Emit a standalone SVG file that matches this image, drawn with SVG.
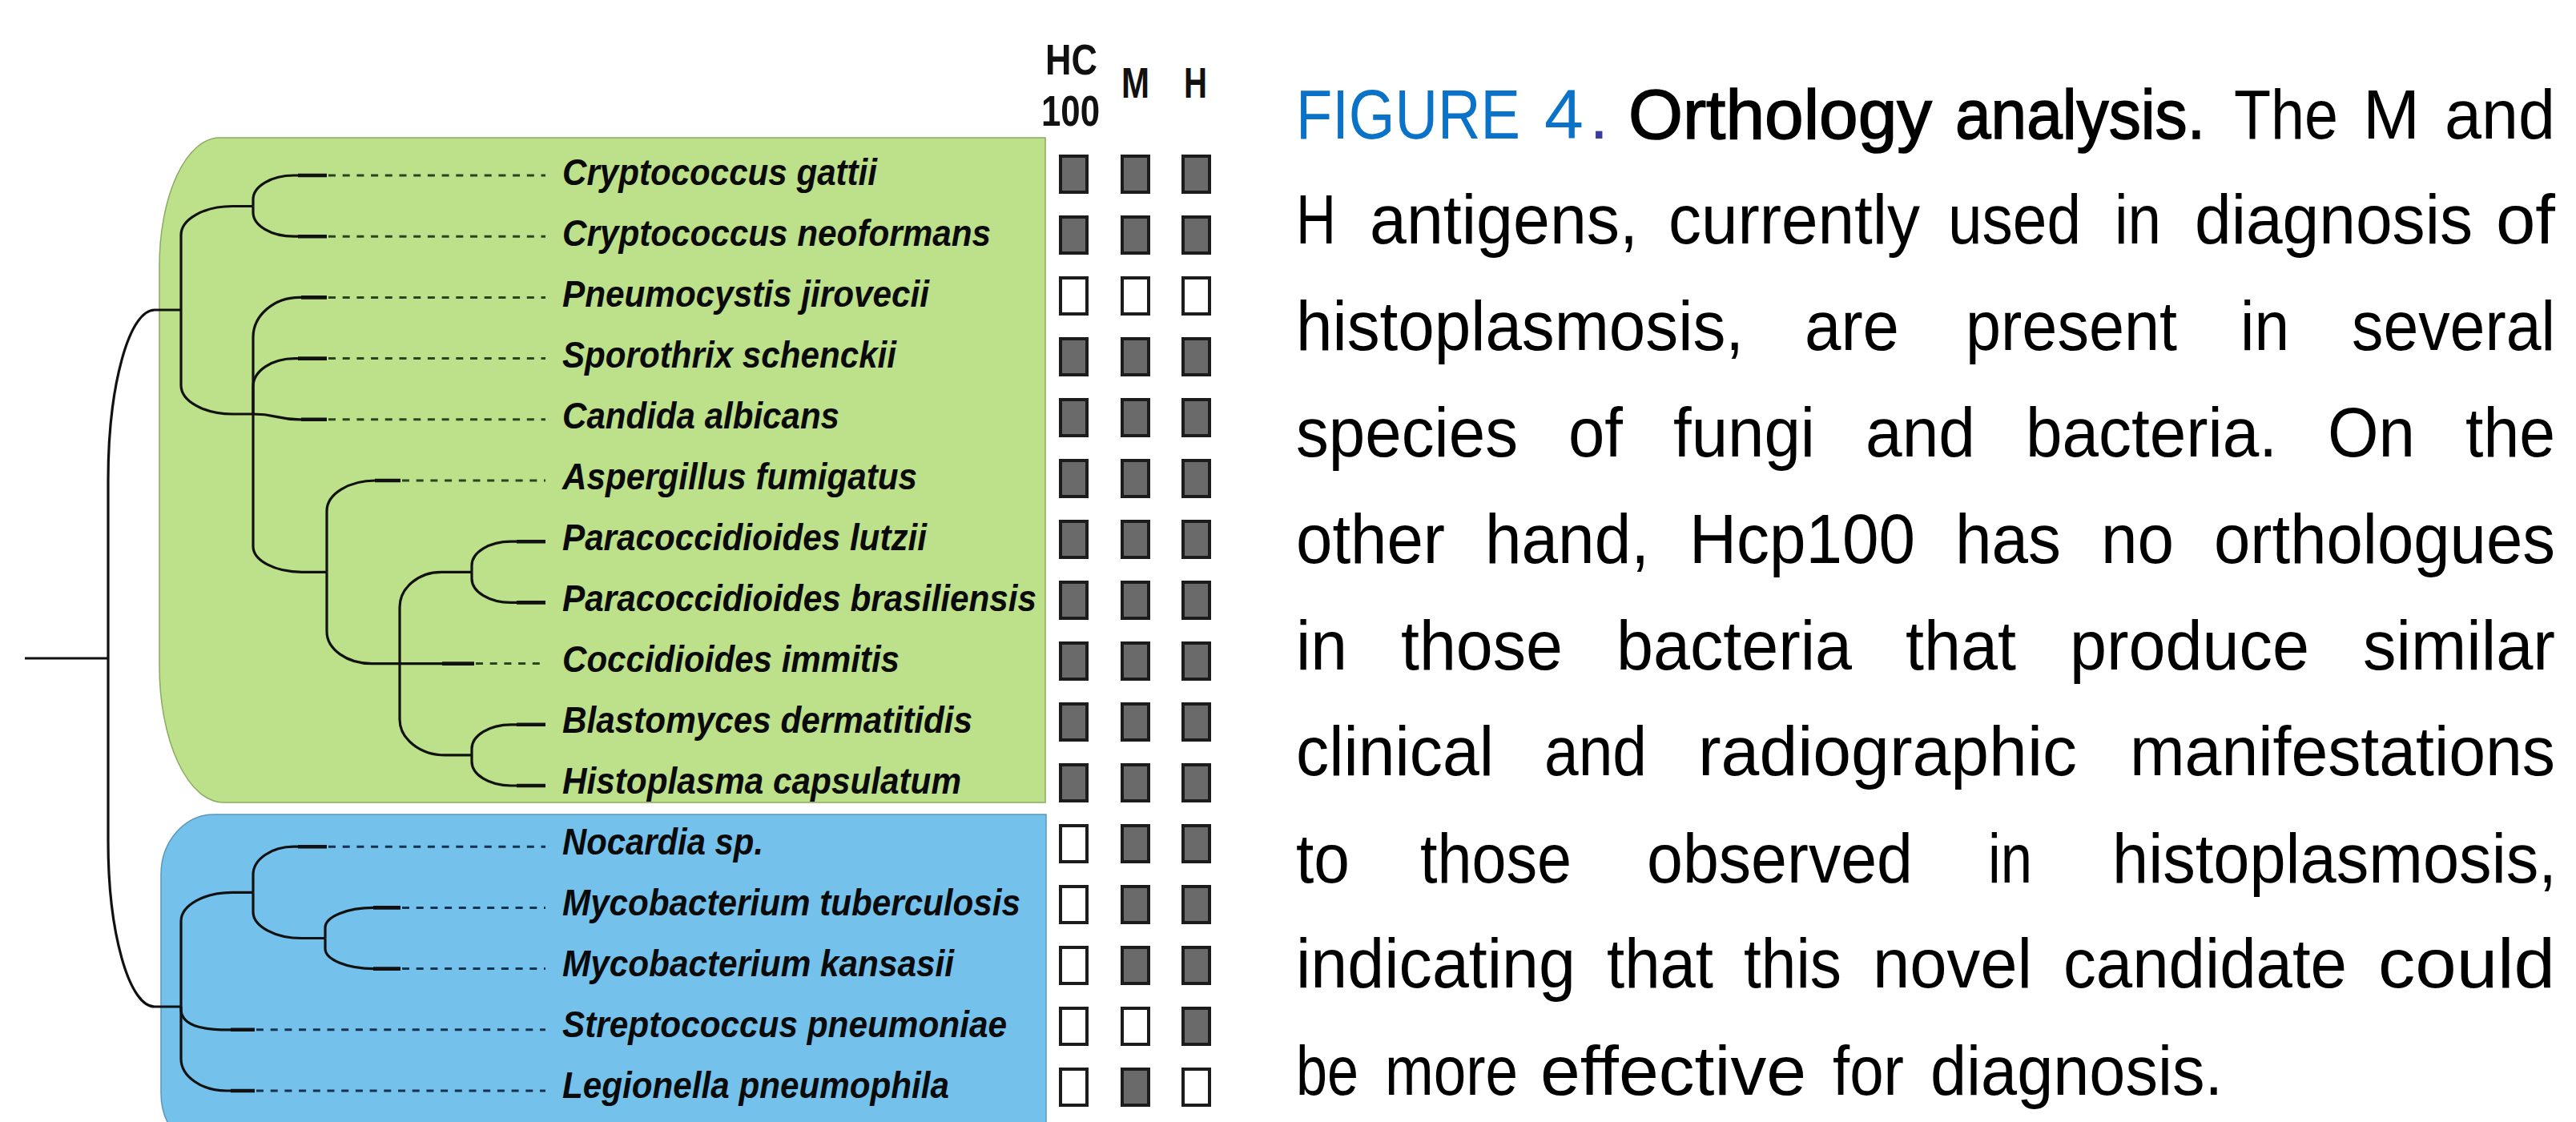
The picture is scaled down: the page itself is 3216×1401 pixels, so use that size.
<svg xmlns="http://www.w3.org/2000/svg" width="3216" height="1401" viewBox="0 0 3216 1401">
<style>
.tree{fill:none;stroke:#111;stroke-width:3.2}
.tip{fill:none;stroke:#111;stroke-width:4.6}
.dg{fill:none;stroke:#2b4420;stroke-width:3;stroke-dasharray:9 8.7}
.db{fill:none;stroke:#15324f;stroke-width:3;stroke-dasharray:9 8.7}
.sp{font-family:"Liberation Sans",Arial,sans-serif;font-weight:bold;font-style:italic;font-size:46px;fill:#0a0a0a}
.hd{font-family:"Liberation Sans",Arial,sans-serif;font-weight:bold;font-size:54px;fill:#111}
.on{fill:#6a6a6a;stroke:#1c1c1c;stroke-width:4}
.off{fill:#fff;stroke:#1c1c1c;stroke-width:4}
.cap text{font-family:"Liberation Sans",Arial,sans-serif;font-size:88px;fill:#000}
.cap text.fig{fill:#0b73c7}
.cap text.dot{fill:#3d3da0}
.cap text.b{stroke:#000;stroke-width:1.6}
</style>
<rect width="3216" height="1401" fill="#fff"/>
<g id="clade-fungi">
<path d="M274,172 H1305 V1002 H279 A80,170 0 0 1 199,832 V332 A75,160 0 0 1 274,172 Z" fill="#bde08b" stroke="#8aab60" stroke-width="1.5"/>
</g>
<g id="clade-bacteria">
<path d="M267,1017 H1306 V1440 H267 A66,75 0 0 1 201,1365 V1092 A66,75 0 0 1 267,1017 Z" fill="#74c1ec" stroke="#5a96bb" stroke-width="1.5"/>
</g>
<g id="connectors">
<path class="tree" d="M31,822 H135"/>
<path class="tree" d="M135,822 V600 A58,213 0 0 1 193,387 H226"/>
<path class="tree" d="M135,822 V1050 A58,207 0 0 0 193,1257 H226"/>
<path class="tree" d="M226,387 V293.5 A64,36 0 0 1 290,257.5 H316"/>
<path class="tree" d="M226,387 V481 A64,36 0 0 0 290,517 H316"/>
<path class="tree" d="M316,257.5 V249 A51,30 0 0 1 367,219 H408"/>
<path class="tree" d="M316,257.5 V265 A51,30 0 0 0 367,295.2 H408"/>
<path class="tree" d="M316,517 V421.4 A58,50 0 0 1 374,371.4 H408"/>
<path class="tree" d="M316,517 V482.6 A52,35 0 0 1 368,447.6 H408"/>
<path class="tree" d="M316,517 C345,517 345,523.8 374,523.8 H408"/>
<path class="tree" d="M316,517 V682.3 A61,32 0 0 0 377,714.3 H408"/>
<path class="tree" d="M408,714.3 V638 A61,38 0 0 1 469,600 H500"/>
<path class="tree" d="M408,714.3 V788.6 A56,40 0 0 0 464,828.6 H592"/>
<path class="tree" d="M499,828.6 V758.3 A52,44 0 0 1 551,714.3 H589"/>
<path class="tree" d="M499,828.6 V897.9 A57,45 0 0 0 556,942.9 H589"/>
<path class="tree" d="M589,714.3 V706.2 A49,30 0 0 1 638,676.2 H681"/>
<path class="tree" d="M589,714.3 V722.4 A49,30 0 0 0 638,752.4 H681"/>
<path class="tree" d="M589,942.9 V934.8 A49,30 0 0 1 638,904.8 H681"/>
<path class="tree" d="M589,942.9 V951 A49,30 0 0 0 638,981 H681"/>
<path class="tree" d="M226,1257 V1150.35 A64,36 0 0 1 290,1114.35 H316"/>
<path class="tree" d="M226,1257 V1262 C228,1280 250,1285.8 285,1285.8 H318"/>
<path class="tree" d="M226,1257 V1322 A57,40 0 0 0 283,1362 H318"/>
<path class="tree" d="M316,1114.35 V1092.2 A51,35 0 0 1 367,1057.2 H408"/>
<path class="tree" d="M316,1114.35 V1138.5 A61,33 0 0 0 377,1171.5 H406"/>
<path class="tree" d="M406,1171.5 V1158.4 A61,25 0 0 1 467,1133.4 H500"/>
<path class="tree" d="M406,1171.5 V1184.6 A61,25 0 0 0 467,1209.6 H500"/>
<path class="tip" d="M372,219 H408 M372,295.2 H408 M376,371.4 H408 M372,447.6 H408 M376,523.8 H408 M468,600 H500 M552,828.6 H592 M645,676.2 H681 M645,752.4 H681 M645,904.8 H681 M645,981 H681 M372,1057.2 H408 M466,1133.4 H500 M466,1209.6 H500 M288,1285.8 H318 M288,1362 H318"/>
<path class="dg" d="M410,219 H681 M410,295.2 H681 M410,371.4 H681 M410,447.6 H681 M410,523.8 H681 M502,600 H681 M594,828.6 H681"/>
<path class="db" d="M410,1057.2 H681 M502,1133.4 H681 M502,1209.6 H681 M320,1285.8 H681 M320,1362 H681"/>
</g>
<g id="header">
<text class="hd" x="1305" y="93" textLength="65" lengthAdjust="spacingAndGlyphs">HC</text>
<text class="hd" x="1300" y="157" textLength="73" lengthAdjust="spacingAndGlyphs">100</text>
<text class="hd" x="1400" y="122" textLength="35" lengthAdjust="spacingAndGlyphs">M</text>
<text class="hd" x="1478" y="122" textLength="29" lengthAdjust="spacingAndGlyphs">H</text>
</g>
<g id="sp-00"><text class="sp" x="702" y="231" textLength="393" lengthAdjust="spacingAndGlyphs">Cryptococcus gattii</text><rect class="on" x="1324" y="195" width="33" height="45"/><rect class="on" x="1401" y="195" width="33" height="45"/><rect class="on" x="1477" y="195" width="33" height="45"/></g>
<g id="sp-01"><text class="sp" x="702" y="307" textLength="535" lengthAdjust="spacingAndGlyphs">Cryptococcus neoformans</text><rect class="on" x="1324" y="271" width="33" height="45"/><rect class="on" x="1401" y="271" width="33" height="45"/><rect class="on" x="1477" y="271" width="33" height="45"/></g>
<g id="sp-02"><text class="sp" x="702" y="383" textLength="458" lengthAdjust="spacingAndGlyphs">Pneumocystis jirovecii</text><rect class="off" x="1324" y="347" width="33" height="45"/><rect class="off" x="1401" y="347" width="33" height="45"/><rect class="off" x="1477" y="347" width="33" height="45"/></g>
<g id="sp-03"><text class="sp" x="702" y="459" textLength="417" lengthAdjust="spacingAndGlyphs">Sporothrix schenckii</text><rect class="on" x="1324" y="423" width="33" height="45"/><rect class="on" x="1401" y="423" width="33" height="45"/><rect class="on" x="1477" y="423" width="33" height="45"/></g>
<g id="sp-04"><text class="sp" x="702" y="535" textLength="346" lengthAdjust="spacingAndGlyphs">Candida albicans</text><rect class="on" x="1324" y="499" width="33" height="45"/><rect class="on" x="1401" y="499" width="33" height="45"/><rect class="on" x="1477" y="499" width="33" height="45"/></g>
<g id="sp-05"><text class="sp" x="702" y="611" textLength="443" lengthAdjust="spacingAndGlyphs">Aspergillus fumigatus</text><rect class="on" x="1324" y="575" width="33" height="45"/><rect class="on" x="1401" y="575" width="33" height="45"/><rect class="on" x="1477" y="575" width="33" height="45"/></g>
<g id="sp-06"><text class="sp" x="702" y="687" textLength="455" lengthAdjust="spacingAndGlyphs">Paracoccidioides lutzii</text><rect class="on" x="1324" y="651" width="33" height="45"/><rect class="on" x="1401" y="651" width="33" height="45"/><rect class="on" x="1477" y="651" width="33" height="45"/></g>
<g id="sp-07"><text class="sp" x="702" y="763" textLength="592" lengthAdjust="spacingAndGlyphs">Paracoccidioides brasiliensis</text><rect class="on" x="1324" y="727" width="33" height="45"/><rect class="on" x="1401" y="727" width="33" height="45"/><rect class="on" x="1477" y="727" width="33" height="45"/></g>
<g id="sp-08"><text class="sp" x="702" y="839" textLength="421" lengthAdjust="spacingAndGlyphs">Coccidioides immitis</text><rect class="on" x="1324" y="803" width="33" height="45"/><rect class="on" x="1401" y="803" width="33" height="45"/><rect class="on" x="1477" y="803" width="33" height="45"/></g>
<g id="sp-09"><text class="sp" x="702" y="915" textLength="512" lengthAdjust="spacingAndGlyphs">Blastomyces dermatitidis</text><rect class="on" x="1324" y="879" width="33" height="45"/><rect class="on" x="1401" y="879" width="33" height="45"/><rect class="on" x="1477" y="879" width="33" height="45"/></g>
<g id="sp-10"><text class="sp" x="702" y="991" textLength="498" lengthAdjust="spacingAndGlyphs">Histoplasma capsulatum</text><rect class="on" x="1324" y="955" width="33" height="45"/><rect class="on" x="1401" y="955" width="33" height="45"/><rect class="on" x="1477" y="955" width="33" height="45"/></g>
<g id="sp-11"><text class="sp" x="702" y="1067" textLength="251" lengthAdjust="spacingAndGlyphs">Nocardia sp.</text><rect class="off" x="1324" y="1031" width="33" height="45"/><rect class="on" x="1401" y="1031" width="33" height="45"/><rect class="on" x="1477" y="1031" width="33" height="45"/></g>
<g id="sp-12"><text class="sp" x="702" y="1143" textLength="572" lengthAdjust="spacingAndGlyphs">Mycobacterium tuberculosis</text><rect class="off" x="1324" y="1107" width="33" height="45"/><rect class="on" x="1401" y="1107" width="33" height="45"/><rect class="on" x="1477" y="1107" width="33" height="45"/></g>
<g id="sp-13"><text class="sp" x="702" y="1219" textLength="489" lengthAdjust="spacingAndGlyphs">Mycobacterium kansasii</text><rect class="off" x="1324" y="1183" width="33" height="45"/><rect class="on" x="1401" y="1183" width="33" height="45"/><rect class="on" x="1477" y="1183" width="33" height="45"/></g>
<g id="sp-14"><text class="sp" x="702" y="1295" textLength="555" lengthAdjust="spacingAndGlyphs">Streptococcus pneumoniae</text><rect class="off" x="1324" y="1259" width="33" height="45"/><rect class="off" x="1401" y="1259" width="33" height="45"/><rect class="on" x="1477" y="1259" width="33" height="45"/></g>
<g id="sp-15"><text class="sp" x="702" y="1371" textLength="483" lengthAdjust="spacingAndGlyphs">Legionella pneumophila</text><rect class="off" x="1324" y="1335" width="33" height="45"/><rect class="on" x="1401" y="1335" width="33" height="45"/><rect class="off" x="1477" y="1335" width="33" height="45"/></g>
<g id="caption" class="cap">
<text class="fig" transform="translate(1618,173) scale(0.842,1)">FIGURE</text>
<text y="173" x="1928" class="fig">4</text>
<text y="173" x="1984" class="dot">.</text>
<text y="173" x="2033" class="b" textLength="379" lengthAdjust="spacingAndGlyphs">Orthology</text>
<text y="173" x="2441" class="b" textLength="312" lengthAdjust="spacingAndGlyphs">analysis.</text>
<text y="173" x="2789" textLength="130" lengthAdjust="spacingAndGlyphs">The</text>
<text y="173" x="2950" textLength="71" lengthAdjust="spacingAndGlyphs">M</text>
<text y="173" x="3052" textLength="138" lengthAdjust="spacingAndGlyphs">and</text>
<text y="304" x="1618" textLength="50" lengthAdjust="spacingAndGlyphs">H</text>
<text y="304" x="1710" textLength="335" lengthAdjust="spacingAndGlyphs">antigens,</text>
<text y="304" x="2083" textLength="314" lengthAdjust="spacingAndGlyphs">currently</text>
<text y="304" x="2432" textLength="166" lengthAdjust="spacingAndGlyphs">used</text>
<text y="304" x="2640" textLength="58" lengthAdjust="spacingAndGlyphs">in</text>
<text y="304" x="2740" textLength="347" lengthAdjust="spacingAndGlyphs">diagnosis</text>
<text y="304" x="3116" textLength="74" lengthAdjust="spacingAndGlyphs">of</text>
<text y="437" x="1618" textLength="559" lengthAdjust="spacingAndGlyphs">histoplasmosis,</text>
<text y="437" x="2253" textLength="118" lengthAdjust="spacingAndGlyphs">are</text>
<text y="437" x="2454" textLength="264" lengthAdjust="spacingAndGlyphs">present</text>
<text y="437" x="2797" textLength="61" lengthAdjust="spacingAndGlyphs">in</text>
<text transform="translate(2936,437) scale(0.8956,1)">several</text>
<text y="570" x="1618" textLength="277" lengthAdjust="spacingAndGlyphs">species</text>
<text y="570" x="1958" textLength="68" lengthAdjust="spacingAndGlyphs">of</text>
<text y="570" x="2089" textLength="177" lengthAdjust="spacingAndGlyphs">fungi</text>
<text y="570" x="2329" textLength="137" lengthAdjust="spacingAndGlyphs">and</text>
<text y="570" x="2529" textLength="314" lengthAdjust="spacingAndGlyphs">bacteria.</text>
<text y="570" x="2906" textLength="109" lengthAdjust="spacingAndGlyphs">On</text>
<text y="570" x="3078" textLength="112" lengthAdjust="spacingAndGlyphs">the</text>
<text y="703" x="1618" textLength="186" lengthAdjust="spacingAndGlyphs">other</text>
<text y="703" x="1854" textLength="205" lengthAdjust="spacingAndGlyphs">hand,</text>
<text y="703" x="2109" textLength="282" lengthAdjust="spacingAndGlyphs">Hcp100</text>
<text y="703" x="2441" textLength="132" lengthAdjust="spacingAndGlyphs">has</text>
<text y="703" x="2623" textLength="91" lengthAdjust="spacingAndGlyphs">no</text>
<text transform="translate(2764,703) scale(0.9265,1)">orthologues</text>
<text y="836" x="1618" textLength="64" lengthAdjust="spacingAndGlyphs">in</text>
<text y="836" x="1749" textLength="202" lengthAdjust="spacingAndGlyphs">those</text>
<text y="836" x="2018" textLength="294" lengthAdjust="spacingAndGlyphs">bacteria</text>
<text y="836" x="2379" textLength="138" lengthAdjust="spacingAndGlyphs">that</text>
<text y="836" x="2584" textLength="299" lengthAdjust="spacingAndGlyphs">produce</text>
<text y="836" x="2950" textLength="240" lengthAdjust="spacingAndGlyphs">similar</text>
<text y="968" x="1618" textLength="247" lengthAdjust="spacingAndGlyphs">clinical</text>
<text y="968" x="1928" textLength="128" lengthAdjust="spacingAndGlyphs">and</text>
<text y="968" x="2120" textLength="473" lengthAdjust="spacingAndGlyphs">radiographic</text>
<text transform="translate(2659,968) scale(0.936,1)">manifestations</text>
<text y="1102" x="1618" textLength="67" lengthAdjust="spacingAndGlyphs">to</text>
<text y="1102" x="1773" textLength="189" lengthAdjust="spacingAndGlyphs">those</text>
<text y="1102" x="2056" textLength="332" lengthAdjust="spacingAndGlyphs">observed</text>
<text y="1102" x="2482" textLength="55" lengthAdjust="spacingAndGlyphs">in</text>
<text transform="translate(2637,1102) scale(0.9225,1)">histoplasmosis,</text>
<text y="1233" x="1618" textLength="349" lengthAdjust="spacingAndGlyphs">indicating</text>
<text y="1233" x="2006" textLength="133" lengthAdjust="spacingAndGlyphs">that</text>
<text y="1233" x="2177" textLength="122" lengthAdjust="spacingAndGlyphs">this</text>
<text y="1233" x="2338" textLength="199" lengthAdjust="spacingAndGlyphs">novel</text>
<text y="1233" x="2576" textLength="354" lengthAdjust="spacingAndGlyphs">candidate</text>
<text y="1233" x="2969" textLength="221" lengthAdjust="spacingAndGlyphs">could</text>
<text y="1367" x="1618" textLength="78" lengthAdjust="spacingAndGlyphs">be</text>
<text transform="translate(1729,1367) scale(0.828,1)">more</text>
<text y="1367" x="1923" textLength="332" lengthAdjust="spacingAndGlyphs">effective</text>
<text y="1367" x="2288" textLength="89" lengthAdjust="spacingAndGlyphs">for</text>
<text y="1367" x="2410" textLength="365" lengthAdjust="spacingAndGlyphs">diagnosis.</text>
</g>
</svg>
